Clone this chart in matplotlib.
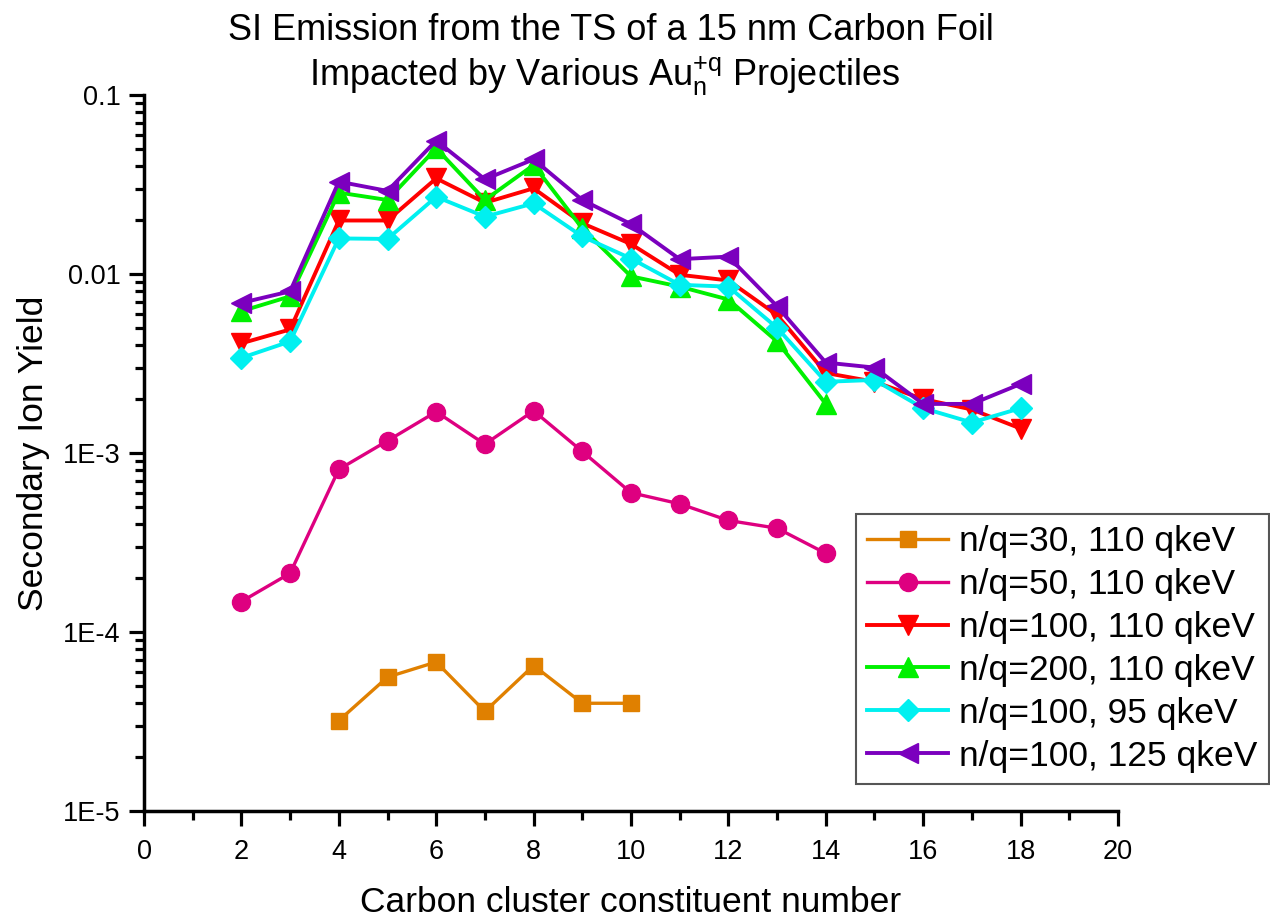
import matplotlib
matplotlib.use("Agg")
import matplotlib.pyplot as plt
from matplotlib.ticker import FixedLocator, LogLocator, NullFormatter, FixedFormatter

plt.rcParams['font.family'] = ['Liberation Sans', 'DejaVu Sans']
plt.rcParams['mathtext.fontset'] = 'custom'
plt.rcParams['mathtext.rm'] = 'Liberation Sans'

# ---- data ----
x_30 = [4, 5, 6, 7, 8, 9, 10]
y_30 = [3.2e-5, 5.6e-5, 6.8e-5, 3.6e-5, 6.5e-5, 4.0e-5, 4.0e-5]

x_50 = [2, 3, 4, 5, 6, 7, 8, 9, 10, 11, 12, 13, 14]
y_50 = [1.48e-4, 2.13e-4, 8.1e-4, 1.17e-3, 1.70e-3, 1.12e-3, 1.72e-3, 1.02e-3,
        6.0e-4, 5.2e-4, 4.2e-4, 3.8e-4, 2.75e-4]

x_100 = list(range(2, 19))
y_100 = [0.0041, 0.0049, 0.0199, 0.0199, 0.0342, 0.0250, 0.0301, 0.0192, 0.0147,
         0.0099, 0.0092, 0.0059, 0.0028, 0.0025, 0.0020, 0.00175, 0.00137]

x_200 = list(range(2, 15))
y_200 = [0.0062, 0.0075, 0.0285, 0.0259, 0.0504, 0.0259, 0.0406, 0.0180, 0.0097,
         0.0085, 0.0072, 0.0042, 0.00188]

x_95 = list(range(2, 19))
y_95 = [0.0034, 0.0042, 0.0158, 0.0157, 0.0270, 0.0209, 0.0248, 0.0162, 0.0122,
        0.0087, 0.0085, 0.0050, 0.0025, 0.00256, 0.00178, 0.00148, 0.00178]

x_125 = list(range(2, 19))
y_125 = [0.0069, 0.0080, 0.0328, 0.0291, 0.0556, 0.0338, 0.0437, 0.0259, 0.0190,
         0.0121, 0.0125, 0.0066, 0.0032, 0.0030, 0.00188, 0.00188, 0.00243]

labels = ["n/q=30, 110 qkeV", "n/q=50, 110 qkeV", "n/q=100, 110 qkeV",
          "n/q=200, 110 qkeV", "n/q=100, 95 qkeV", "n/q=100, 125 qkeV"]

x_ticks = [0, 2, 4, 6, 8, 10, 12, 14, 16, 18, 20]
y_ticks = [1e-5, 1e-4, 1e-3, 1e-2, 1e-1]
y_tick_labels = ["1E-5", "1E-4", "1E-3", "0.01", "0.1"]

# ---- figure ----
fig = plt.figure(figsize=(12.7, 9.23), dpi=100)
ax = fig.add_axes([0.1134, 0.1213, 0.8803 - 0.1134, 0.8971 - 0.1213])

series = [
    (x_30, y_30, '#E08000', 's', 11.5, 2.4),
    (x_50, y_50, '#DE0080', 'o', 13, 2.4),
    (x_100, y_100, '#FF0000', 'v', 14.5, 2.8),
    (x_200, y_200, '#00F000', '^', 14.5, 2.8),
    (x_95, y_95, '#00F0F0', 'D', 11, 2.8),
    (x_125, y_125, '#7B00BE', '<', 14.5, 2.8),
]
for (xs, ys, c, m, ms, lw), lab in zip(series, labels):
    ax.plot(xs, ys, color=c, marker=m, markersize=ms, linewidth=lw,
            markeredgewidth=1, markeredgecolor=c, label=lab)

ax.set_yscale('log')
ax.set_xlim(0, 20)
ax.set_ylim(1e-5, 0.1)

ax.xaxis.set_major_locator(FixedLocator(x_ticks))
ax.xaxis.set_minor_locator(FixedLocator(list(range(1, 20, 2))))
ax.yaxis.set_major_locator(FixedLocator(y_ticks))
ax.yaxis.set_major_formatter(FixedFormatter(y_tick_labels))
ax.yaxis.set_minor_locator(LogLocator(base=10, subs=range(2, 10)))
ax.yaxis.set_minor_formatter(NullFormatter())

for s in ['top', 'right']:
    ax.spines[s].set_visible(False)
for s in ['left', 'bottom']:
    ax.spines[s].set_linewidth(2.5)

ax.tick_params(which='major', direction='out', length=11, width=2.3,
               labelsize=19.5)
ax.tick_params(which='minor', direction='out', length=6.5, width=2.3)
ax.tick_params(axis='x', which='major', pad=9)
ax.tick_params(axis='y', which='major', pad=6)

ax.set_xlabel("Carbon cluster constituent number", fontsize=25.5, labelpad=15)
ax.set_ylabel("Secondary Ion Yield", fontsize=25.5, labelpad=9)

fig.text(0.481, 0.9567, "SI Emission from the TS of a 15 nm Carbon Foil",
         ha='center', va='baseline', fontsize=26)
fig.text(0.476, 0.9068,
         r"Impacted by Various Au$_{\mathregular{n}}^{\mathregular{+q}}$ Projectiles",
         ha='center', va='baseline', fontsize=26)

leg = fig.legend(loc='lower right', bbox_to_anchor=(0.999, 0.1506),
                 bbox_transform=fig.transFigure, fontsize=25.5, numpoints=1,
                 handlelength=2.3, handletextpad=0.3, labelspacing=0.28,
                 borderpad=0.32, borderaxespad=0, fancybox=False,
                 framealpha=1, edgecolor='#555555')
leg.get_frame().set_linewidth(1.5)

fig.savefig("out.png", dpi=100)
